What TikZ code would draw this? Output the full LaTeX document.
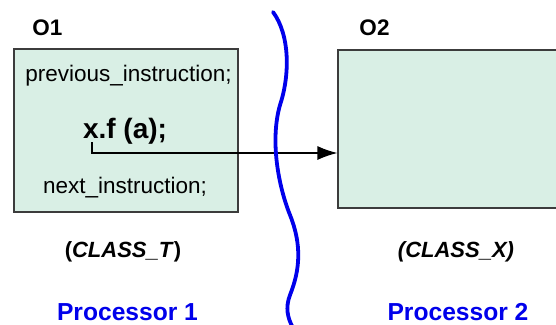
\documentclass[tikz,border=0pt]{standalone}
\usepackage{fontspec}
\setmainfont{Liberation Sans}
\usetikzlibrary{arrows.meta}
\definecolor{objfill}{RGB}{217,239,229}
\definecolor{objline}{RGB}{60,60,60}
\definecolor{procblue}{RGB}{0,0,235}

\begin{document}
\begin{tikzpicture}[x=1pt,y=-1pt,
    objbox/.style={draw=objline,fill=objfill,line width=1.2pt,inner sep=0pt},
    code/.style={font=\fontsize{22.5}{25}\selectfont,anchor=base},
    objname/.style={font=\fontsize{22.5}{25}\selectfont\bfseries,anchor=base},
    cls/.style={font=\fontsize{22}{25}\selectfont\bfseries,anchor=base},
    proc/.style={font=\fontsize{24.6}{27}\selectfont\bfseries,text=procblue,anchor=base}]
    \useasboundingbox (0,0) rectangle (556,324);

    \node [objbox,minimum width=224pt,minimum height=163pt] (O1box) at (126,130.5) {};
    \node [objbox,minimum width=230pt,minimum height=158pt] (O2box) at (453,129) {};

    \node [objname] (O1) at (47.5,35) {O1};
    \node [objname] (O2) at (374.5,35) {O2};

    \node [code] (PREV) at (128.5,81) {previous\_instruction;};
    \node [font=\fontsize{28}{30}\selectfont\bfseries,anchor=base] (CALL) at (125,138) {x.f (a);};
    \node [code] (NEXT) at (125,193) {next\_instruction;};

    \node [cls] (CT) at (123,257) {(\textit{CLASS\_T})};
    \node [cls,font=\fontsize{22}{25}\selectfont\bfseries\itshape] (CX) at (456,257) {(CLASS\_X)};

    \node [proc] (P1) at (127.5,320) {Processor 1};
    \node [proc] (P2) at (458,320) {Processor 2};

    \coordinate (from) at (92,142);
    \coordinate (to) at (O2box.west |- 0,153);
    \draw [line width=1.3pt,-{Latex[length=20pt,width=14pt]}] (from) |- (to);

    % boundary between the processors
    \draw [procblue,line width=3.8pt,line cap=round]
        (273,12) .. controls (290,35) and (290,75) .. (280,105)
        .. controls (270,140) and (278,185) .. (290,215)
        .. controls (302,245) and (300,270) .. (290,295)
        .. controls (285,308) and (288,318) .. (292,326);
\end{tikzpicture}
\end{document}
